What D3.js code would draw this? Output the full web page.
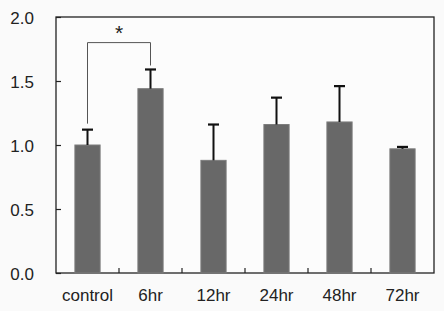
<!DOCTYPE html>
<html><head><meta charset="utf-8">
<script src="https://cdn.jsdelivr.net/npm/d3@7"></script>
<style>body{margin:0;background:#fafafa;}svg{display:block;}</style>
</head><body>
<svg id="c" width="444" height="311"></svg>
<script>
const categories = ["control","6hr","12hr","24hr","48hr","72hr"];
const values = [1.00, 1.44, 0.88, 1.16, 1.18, 0.97];
const errors = [0.12, 0.15, 0.28, 0.21, 0.28, 0.015];
const yTicks = [0, 0.5, 1.0, 1.5, 2.0];

const svg = d3.select("#c");
const m = {l:56, t:17, r:434, b:273};
const x = d3.scaleBand().domain(categories).range([m.l, m.r]).paddingInner(0.6).paddingOuter(0.3);
const y = d3.scaleLinear().domain([0,2]).range([m.b, m.t]);
const font = "'Liberation Sans', Arial, sans-serif";

// frame
svg.append("rect").attr("x", m.l).attr("y", m.t).attr("width", m.r-m.l).attr("height", m.b-m.t)
  .attr("fill","#fcfcfc").attr("stroke","#222").attr("stroke-width",1.3);

// bars
svg.selectAll(".bar").data(categories).enter().append("rect")
  .attr("x", d=>x(d)).attr("y", (d,i)=>y(values[i]))
  .attr("width", x.bandwidth()).attr("height", (d,i)=>y(0)-y(values[i]))
  .attr("fill","#686868").attr("stroke","#7c7c7c").attr("stroke-width",1);

// error bars
const cx = d => x(d) + x.bandwidth()/2;
svg.selectAll(".err").data(categories).enter().append("line")
  .attr("x1", cx).attr("x2", cx)
  .attr("y1", (d,i)=>y(values[i])).attr("y2", (d,i)=>y(values[i]+errors[i]))
  .attr("stroke","#111").attr("stroke-width",2);
svg.selectAll(".cap").data(categories).enter().append("line")
  .attr("x1", d=>cx(d)-5.5).attr("x2", d=>cx(d)+5.5)
  .attr("y1", (d,i)=>y(values[i]+errors[i])).attr("y2", (d,i)=>y(values[i]+errors[i]))
  .attr("stroke","#111").attr("stroke-width",2.2);

// y axis
const yAxis = d3.axisLeft(y).tickValues(yTicks).tickFormat(d3.format(".1f")).tickSize(-5).tickPadding(22);
const gy = svg.append("g").attr("transform",`translate(${m.l},0)`).call(yAxis);
gy.select(".domain").remove();
gy.selectAll(".tick line").attr("stroke","#222").attr("stroke-width",1.2);
gy.selectAll("text").attr("font-family",font).attr("font-size",17).attr("fill","#222").attr("dy","0.36em");

// x axis
const xAxis = d3.axisBottom(x).tickSize(0).tickPadding(16);
const gx = svg.append("g").attr("transform",`translate(0,${m.b})`).call(xAxis);
gx.select(".domain").remove();
gx.selectAll("text").attr("font-family",font).attr("font-size",17).attr("fill","#222");
// x ticks between categories
const between = categories.slice(1).map(d => x(d) - x.step()*x.paddingInner()/2);
svg.selectAll(".xt").data(between).enter().append("line")
  .attr("x1", d=>d).attr("x2", d=>d).attr("y1", m.b).attr("y2", m.b-5)
  .attr("stroke","#222").attr("stroke-width",1.2);

// significance bracket
const x0 = cx("control"), x1 = cx("6hr");
const yb = y(1.80);
svg.append("path")
  .attr("d", `M${x0},${y(values[0]+errors[0])-6} L${x0},${yb} L${x1},${yb} L${x1},${y(values[1]+errors[1])-4}`)
  .attr("fill","none").attr("stroke","#555").attr("stroke-width",1);
svg.append("text").attr("x",(x0+x1)/2).attr("y", y(1.80)-3).attr("text-anchor","middle")
  .attr("font-family",font).attr("font-size",21).attr("fill","#222").text("*");
</script>
</body></html>
